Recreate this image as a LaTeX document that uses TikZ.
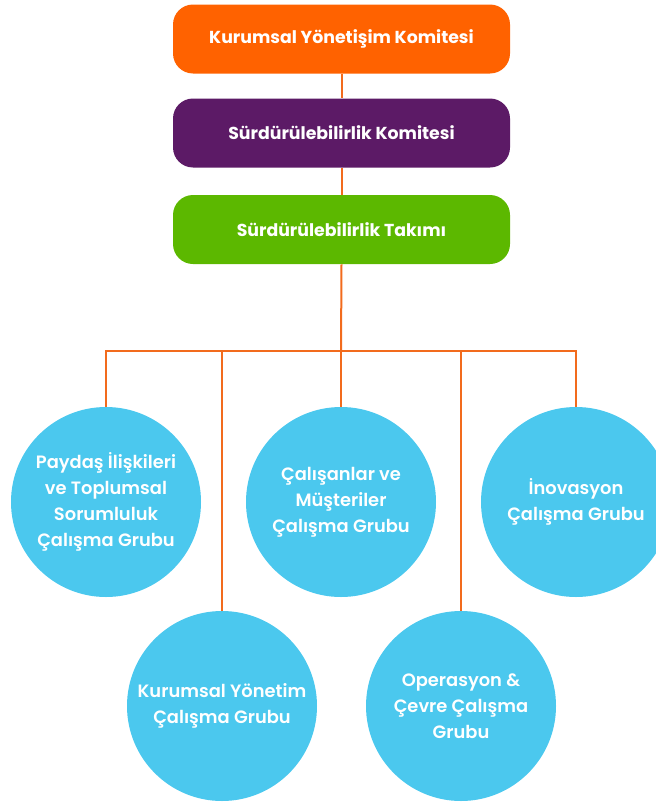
\documentclass[tikz,border=0pt]{standalone}
\usepackage{fontspec}
\setmainfont{Poppins}
\newfontfamily\boxfont{Poppins Bold}
\newfontfamily\grpfont{Poppins SemiBold}
\usepackage{tikz}

\definecolor{kyorange}{HTML}{FF6200}
\definecolor{skpurple}{HTML}{5C1A66}
\definecolor{stgreen}{HTML}{5CB800}
\definecolor{grpblue}{HTML}{4BC8EE}
\definecolor{linkorange}{HTML}{F26B1D}

\begin{document}
\begin{tikzpicture}[x=0.75pt, y=-0.75pt,
    levelbox/.style={rounded corners=15pt, minimum width=252.75pt, minimum height=51.75pt,
                     text=white, font=\boxfont\fontsize{13}{15}\selectfont},
    groupcircle/.style={circle, fill=grpblue, minimum size=142.5pt, inner sep=0pt,
                        text=white, align=center, font=\grpfont\fontsize{13.4}{19.5}\selectfont},
    link/.style={draw=linkorange, line width=1.5pt}]
    \useasboundingbox (0,0) rectangle (656,803);

    \node [levelbox, fill=kyorange] (kyk) at (341.5,39)  {Kurumsal Yönetişim Komitesi};
    \node [levelbox, fill=skpurple] (sk)  at (341.5,133) {Sürdürülebilirlik Komitesi};
    \node [levelbox, fill=stgreen]  (st)  at (341.5,229.5) {Sürdürülebilirlik Takımı};

    \node [groupcircle] (paydas)    at (106,502) {Paydaş İlişkileri\\ve Toplumsal\\Sorumluluk\\Çalışma Grubu};
    \node [groupcircle] (calisan)   at (341,502) {Çalışanlar ve\\Müşteriler\\Çalışma Grubu};
    \node [groupcircle] (inov)      at (576,502) {İnovasyon\\Çalışma Grubu};
    \node [groupcircle] (kyonetim)  at (222,706) {Kurumsal Yönetim\\Çalışma Grubu};
    \node [groupcircle] (operasyon) at (461,706) {Operasyon \&\\Çevre Çalışma\\Grubu};

    \coordinate (bus) at (341,351);

    \draw [link] (kyk.south) -- (sk.north);
    \draw [link] (sk.south) -- (st.north);
    \draw [link] (st.south) -- (bus);
    \draw [link] (paydas.north) -- (paydas.north |- bus) -- (inov.north |- bus) -- (inov.north);
    \draw [link] (calisan.north) -- (calisan.north |- bus);
    \draw [link] (kyonetim.north) -- (kyonetim.north |- bus);
    \draw [link] (operasyon.north) -- (operasyon.north |- bus);
\end{tikzpicture}
\end{document}
